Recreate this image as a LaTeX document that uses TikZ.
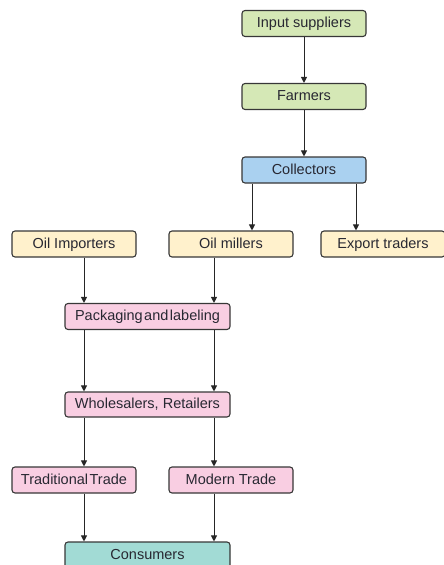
\documentclass[tikz,border=0pt]{standalone}
\usepackage{fontspec}
\setmainfont{Liberation Sans}
\usetikzlibrary{arrows.meta}
\definecolor{cgreen}{RGB}{213,232,182}
\definecolor{cblue}{RGB}{170,209,240}
\definecolor{cyellow}{RGB}{255,241,204}
\definecolor{cpink}{RGB}{249,206,226}
\definecolor{cteal}{RGB}{162,219,213}
\definecolor{cedge}{RGB}{55,55,55}
\definecolor{ctext}{RGB}{40,40,50}
\begin{document}
\begin{tikzpicture}[x=1pt,y=-1pt,
  box/.style={draw=cedge,line width=1.1pt,rounded corners=3pt,minimum width=124pt,minimum height=26pt,inner sep=0pt,text height=10.5pt,text depth=2pt,text=ctext,font=\fontsize{14.5}{17}\selectfont},
  wbox/.style={box,minimum width=165pt},
  arr/.style={draw=black!85,line width=1pt,-{Triangle[length=6pt,width=6pt]}}]
\useasboundingbox (0,0) rectangle (444,565);
\begin{scope}
\clip (0,0) rectangle (444,565);
\node[box,fill=cgreen] (inp) at (304,23.5) {Input suppliers};
\node[box,fill=cgreen] (far) at (304,96.5) {Farmers};
\node[box,fill=cblue] (col) at (304,170) {Collectors};
\node[box,fill=cyellow] (imp) at (74,244) {Oil Importers};
\node[box,fill=cyellow] (mil) at (231,244) {Oil millers};
\node[box,fill=cyellow] (exp) at (383,244) {Export traders};
\node[wbox,fill=cpink] (pac) at (147.5,316.5) {Packaging\hspace{1.5pt}and\hspace{1.5pt}labeling};
\node[wbox,fill=cpink,minimum height=25pt] (who) at (147.5,404.5) {Wholesalers, Retailers};
\node[box,fill=cpink] (tra) at (74,480) {Traditional\hspace{1.5pt}Trade};
\node[box,fill=cpink] (mod) at (231,480) {Modern Trade};
\node[wbox,fill=cteal] (con) at (147.5,555) {Consumers};
\end{scope}
\draw[arr] (inp) -- (far);
\draw[arr] (far) -- (col);
\draw[arr] ([xshift=-52pt]col.south) -- ([xshift=21pt]mil.north);
\draw[arr] ([xshift=52pt]col.south) -- ([xshift=-27pt]exp.north);
\draw[arr] ([xshift=10pt]imp.south) -- ([xshift=-63.5pt]pac.north);
\draw[arr] ([xshift=-17pt]mil.south) -- ([xshift=66.5pt]pac.north);
\draw[arr] ([xshift=-63.5pt]pac.south) -- ([xshift=-63.5pt]who.north);
\draw[arr] ([xshift=66.5pt]pac.south) -- ([xshift=66.5pt]who.north);
\draw[arr] ([xshift=-63.5pt]who.south) -- ([xshift=10pt]tra.north);
\draw[arr] ([xshift=66.5pt]who.south) -- ([xshift=-17pt]mod.north);
\draw[arr] ([xshift=10pt]tra.south) -- ([xshift=-63.5pt]con.north);
\draw[arr] ([xshift=-17pt]mod.south) -- ([xshift=66.5pt]con.north);
\end{tikzpicture}
\end{document}
